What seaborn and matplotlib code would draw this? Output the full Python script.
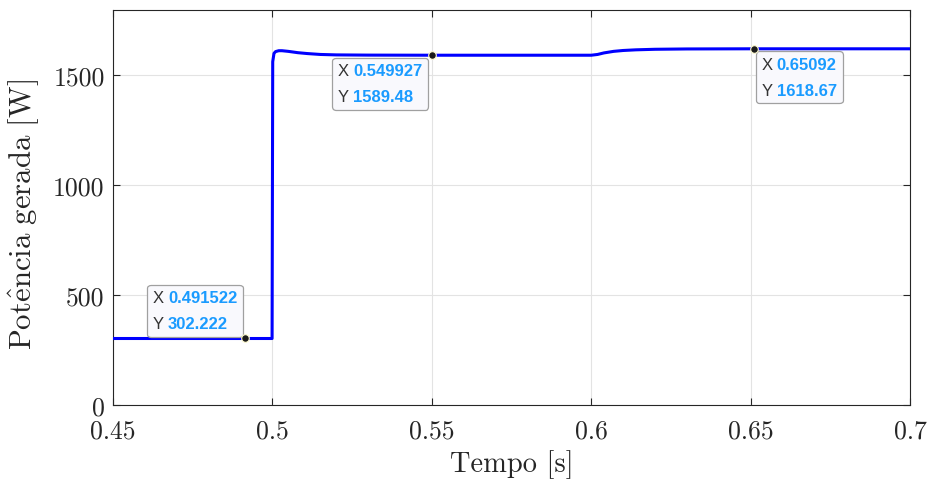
import matplotlib
matplotlib.use("Agg")
import matplotlib.pyplot as plt
import seaborn as sns
import pandas as pd
from matplotlib.offsetbox import TextArea, HPacker, VPacker, AnnotationBbox

# ---- data ----
tempo = [0.45, 0.4915, 0.4999, 0.5001, 0.5005, 0.501, 0.502, 0.503, 0.505, 0.508,
         0.511, 0.515, 0.52, 0.53, 0.55, 0.6, 0.602, 0.604, 0.607, 0.61, 0.614,
         0.62, 0.63, 0.65, 0.7]
potencia = [302.2, 302.2, 302.2, 1560, 1598, 1606, 1610, 1610, 1607, 1601,
            1597, 1593, 1591, 1590, 1589.5, 1589.5, 1593, 1600, 1607, 1611, 1614,
            1616.5, 1618, 1618.7, 1618.7]

x_ticks = [0.45, 0.5, 0.55, 0.6, 0.65, 0.7]
x_tick_labels = ["0.45", "0.5", "0.55", "0.6", "0.65", "0.7"]
y_ticks = [0, 500, 1000, 1500]
y_tick_labels = ["0", "500", "1000", "1500"]

tip_x = [0.491522, 0.549927, 0.65092]
tip_y = [302.222, 1589.48, 1618.67]
tip_x_txt = ["0.491522", "0.549927", "0.65092"]
tip_y_txt = ["302.222", "1589.48", "1618.67"]

df = pd.DataFrame({"Tempo": tempo, "Potencia": potencia})

sns.set_style("white")
plt.rcParams["font.family"] = "serif"
plt.rcParams["font.serif"] = ["cmr10", "DejaVu Serif"]
plt.rcParams["mathtext.fontset"] = "cm"
plt.rcParams["axes.unicode_minus"] = False

fig = plt.figure(figsize=(9.31, 4.85), dpi=100)
ax = fig.add_axes([113 / 931, 79 / 485, (910 - 113) / 931, (406 - 11) / 485])

sns.lineplot(data=df, x="Tempo", y="Potencia", ax=ax, color="#0000ff",
             linewidth=2.2, zorder=3)

ax.set_xlim(0.45, 0.7)
ax.set_ylim(0, 1795)
ax.set_xticks(x_ticks)
ax.set_xticklabels(x_tick_labels)
ax.set_yticks(y_ticks)
ax.set_yticklabels(y_tick_labels)
ax.grid(True, color="#e3e3e3", linewidth=0.8, zorder=0)
ax.set_axisbelow(True)
for s in ax.spines.values():
    s.set_color("#262626")
    s.set_linewidth(0.8)
ax.tick_params(direction="in", length=5, width=0.8, color="#262626",
               labelsize=18.5, top=True, right=True, bottom=True, left=True,
               labelcolor="#262626")
ax.tick_params(axis="x", pad=10)
ax.tick_params(axis="y", pad=6)
ax.set_xlabel("Tempo [s]", fontsize=20.5, color="#262626", labelpad=5)
ax.set_ylabel(r"$\mathrm{Pot\hat{e}ncia\ gerada\ [W]}$", fontsize=22.2,
              color="#262626")
ax.yaxis.set_label_coords((41 - 113) / 797, 0.485)

# ---- data tips ----
px = 0.72  # points per pixel at dpi 100
settings = [((1, 0), (-8 * px, 7 * px)),
            ((1, 1), (-9 * px, -8 * px)),
            ((0, 1), (8 * px, -8 * px))]
for i in range(3):
    ax.scatter([tip_x[i]], [tip_y[i]], s=30, color="#1a1a1a",
               edgecolor="#fffbd0", linewidth=0.8, zorder=8)
    fp_lab = dict(color="#333333", fontsize=12, family="Liberation Sans")
    fp_val = dict(color="#1a9bff", fontsize=12, family="Liberation Sans",
                  fontweight="bold")
    row1 = HPacker(children=[TextArea("X", textprops=fp_lab),
                             TextArea(tip_x_txt[i], textprops=fp_val)],
                   align="baseline", pad=0, sep=3)
    row2 = HPacker(children=[TextArea("Y", textprops=fp_lab),
                             TextArea(tip_y_txt[i], textprops=fp_val)],
                   align="baseline", pad=0, sep=3)
    box = VPacker(children=[row1, row2], align="left", pad=0, sep=8)
    align, off = settings[i]
    ab = AnnotationBbox(box, (tip_x[i], tip_y[i]), xybox=off,
                        xycoords="data", boxcoords="offset points",
                        box_alignment=align, frameon=True, pad=0.4,
                        bboxprops=dict(boxstyle="round,pad=0.4,rounding_size=0.25",
                                       fc="#f9f9fd", ec="#a0a0a0", lw=0.9),
                        zorder=7)
    ax.add_artist(ab)

fig.savefig("out.png", dpi=100)
